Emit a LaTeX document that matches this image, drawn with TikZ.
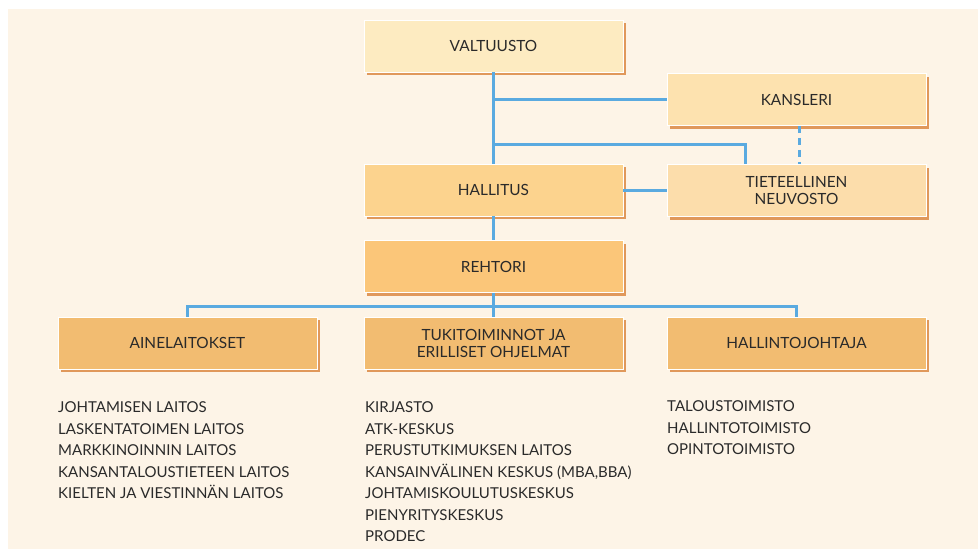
\documentclass[tikz,border=0pt]{standalone}
\usepackage{fontspec}
\setsansfont{Lato}
\usetikzlibrary{positioning,shadows}

\definecolor{bgcream}{HTML}{FDF4E7}
\definecolor{valtfill}{HTML}{FDEBC1}
\definecolor{kansfill}{HTML}{FDE2AF}
\definecolor{tietfill}{HTML}{FCDDAB}
\definecolor{hallfill}{HTML}{FCD38E}
\definecolor{rehtfill}{HTML}{FBC679}
\definecolor{unitfill}{HTML}{F2BC71}
\definecolor{shadeorange}{HTML}{E0985B}
\definecolor{linkblue}{HTML}{5AAAE0}
\definecolor{inkgray}{HTML}{2A2A2A}

\begin{document}
\begin{tikzpicture}[x=1pt, y=-1pt, font=\sffamily\fontsize{15.4}{17}\selectfont,
    orgbox/.style={draw=white, line width=0.8pt, minimum width=259pt, minimum height=52pt,
      inner sep=0pt, align=center, text=inkgray,
      drop shadow={shadow xshift=3pt, shadow yshift=-3pt, fill=shadeorange, opacity=1}},
    link/.style={draw=linkblue, line width=3pt},
    listtext/.style={anchor=north west, inner sep=0pt, align=left, text=inkgray,
      font=\sffamily\fontsize{15}{21.5}\selectfont}]
    % Tausta
    \useasboundingbox (0,0) rectangle (978,549);
    \fill[bgcream] (8,9) rectangle (978,549);

    % Laatikot
    \node[orgbox, fill=valtfill] (valtuusto) at (493.5,46) {VALTUUSTO};
    \node[orgbox, fill=kansfill] (kansleri) at (796.5,99.5) {KANSLERI};
    \node[orgbox, fill=tietfill] (neuvosto) at (796.5,190.5) {TIETEELLINEN\\NEUVOSTO};
    \node[orgbox, fill=hallfill] (hallitus) at (493.5,190) {HALLITUS};
    \node[orgbox, fill=rehtfill] (rehtori) at (493.5,266.5) {REHTORI};
    \node[orgbox, fill=unitfill] (aine) at (187.5,343) {AINELAITOKSET};
    \node[orgbox, fill=unitfill] (tuki) at (493.5,343) {TUKITOIMINNOT JA\\ERILLISET OHJELMAT};
    \node[orgbox, fill=unitfill] (hjohtaja) at (796.5,343) {HALLINTOJOHTAJA};

    % Yhteydet
    \coordinate (neuvtap) at (493.5,144);
    \coordinate (haara) at (493.5,306);
    \draw[link] (valtuusto.south) -- (hallitus.north);
    \draw[link] (kansleri.west) -- (kansleri.west -| valtuusto.south);
    \draw[link] (neuvtap) -| ([xshift=-51.5pt]neuvosto.north);
    \draw[link, dash pattern=on 7pt off 5pt] ([xshift=2.5pt]kansleri.south) -- ([xshift=2.5pt]neuvosto.north);
    \draw[link] (hallitus.east) -- (hallitus.east -| neuvosto.west);
    \draw[link] (hallitus.south) -- (rehtori.north);
    \draw[link] (rehtori.south) -- (haara) -- (tuki.north);
    \draw[link] (aine.north) |- (haara) -| (hjohtaja.north);

    % Luettelot
    \node[listtext] (ainelista) at (58,401.5) {JOHTAMISEN LAITOS\\LASKENTATOIMEN LAITOS\\MARKKINOINNIN LAITOS\\KANSANTALOUSTIETEEN LAITOS\\KIELTEN JA VIESTINNÄN LAITOS};
    \node[listtext] (tukilista) at (365,401.5) {KIRJASTO\\ATK-KESKUS\\PERUSTUTKIMUKSEN LAITOS\\KANSAINVÄLINEN KESKUS (MBA,BBA)\\JOHTAMISKOULUTUSKESKUS\\PIENYRITYSKESKUS\\PRODEC};
    \node[listtext] (hjlista) at (667,400.5) {TALOUSTOIMISTO\\HALLINTOTOIMISTO\\OPINTOTOIMISTO};
\end{tikzpicture}
\end{document}
